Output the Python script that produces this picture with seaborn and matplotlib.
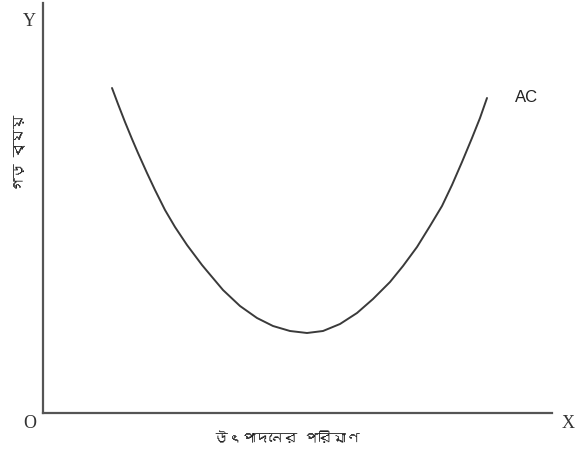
import numpy as np
import pandas as pd
import seaborn as sns
import matplotlib.pyplot as plt
from matplotlib import font_manager
from matplotlib.ft2font import FT2Font

# AC curve (arbitrary units)
quantity = [69, 75, 82, 89, 95, 104, 112, 122, 132, 144, 159, 164, 180, 197, 214, 230,
            247, 264, 280, 297, 314, 330, 347, 360, 374, 387, 399, 409, 419, 429, 437, 444]
avg_cost = [325, 309, 291, 274, 260, 240, 223, 203, 186, 168, 148, 142, 123, 107, 95, 87,
            82, 80, 82, 89, 100, 114, 131, 147, 166, 187, 207, 228, 251, 275, 295, 315]

x_label = "উৎপাদনের পরিমাণ"
y_label = "গড় ব্যয়"
curve_label = "AC"


def find_bengali_font():
    # look for any installed font that has Bengali glyphs
    for f in font_manager.fontManager.ttflist:
        try:
            cmap = FT2Font(f.fname).get_charmap()
        except Exception:
            continue
        if 0x0997 in cmap and 0x09AA in cmap:
            return f.name
    return None


sns.set_theme(style="white")
bn_font = find_bengali_font()
bn_family = [bn_font, "DejaVu Sans"] if bn_font else ["DejaVu Sans"]

W, H = 578, 455
fig = plt.figure(figsize=(W / 100, H / 100), dpi=100)
ax = fig.add_axes([43 / W, (H - 413) / H, 509 / W, 410 / H])

df = pd.DataFrame({"q": quantity, "ac": avg_cost})
sns.lineplot(data=df, x="q", y="ac", ax=ax, color="#3a3a3a", linewidth=1.4, sort=False)

ax.set_xlim(0, 509)
ax.set_ylim(0, 410)
ax.set_xticks([])
ax.set_yticks([])
ax.set_xlabel("")
ax.set_ylabel("")
for side in ["top", "right"]:
    ax.spines[side].set_visible(False)
for side in ["left", "bottom"]:
    ax.spines[side].set_color("#555555")
    ax.spines[side].set_linewidth(1.6)


def px(x, y):
    return x / W, 1 - y / H


serif = "Liberation Serif"
fig.text(*px(29, 21), "Y", family=serif, fontsize=13, ha="center", va="center", color="#333333")
fig.text(*px(30, 423), "O", family=serif, fontsize=13, ha="center", va="center", color="#333333")
fig.text(*px(568, 423), "X", family=serif, fontsize=13, ha="center", va="center", color="#333333")
fig.text(*px(527, 98), curve_label, family="Liberation Sans", fontsize=12, ha="center", va="center", color="#222222")
fig.text(*px(287, 439), x_label, family=bn_family, fontsize=10, ha="center", va="center", color="#222222")
fig.text(*px(20, 153), y_label, family=bn_family, fontsize=10, ha="center", va="center", rotation=90, color="#222222")

fig.savefig("out.png", dpi=100)
